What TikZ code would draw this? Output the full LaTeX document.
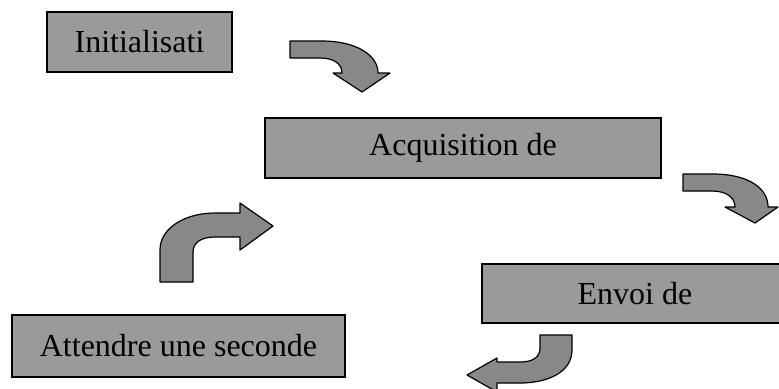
\documentclass[tikz,border=0pt]{standalone}
\usepackage{fontspec}
\setmainfont{Liberation Serif}
\definecolor{boxgray}{RGB}{154,154,154}
\definecolor{arrowgray}{RGB}{136,136,136}
\tikzset{
  basic/.style     = {draw, line width=0.8pt, fill=boxgray, rectangle, inner sep=0pt,
                      font=\fontsize{16}{19}\selectfont},
  stage/.style     = {basic, minimum height=30pt},
  bentarrow/.style = {draw, line width=0.6pt, fill=arrowgray, line join=round}
}

\begin{document}
\begin{tikzpicture}[x=0.5pt, y=-0.5pt]

\clip (0,0) rectangle (779,388);

% the four steps of the loop
\node[stage, minimum width=92.5pt] (init) at (139.5,42) {Initialisati};
\node[stage, minimum width=198pt]  (acq)  at (463,148)  {Acquisition de};
\node[stage, minimum width=153pt, minimum height=29.5pt] (envoi) at (635,293.5) {Envoi de};
\node[stage, minimum width=166.5pt, minimum height=31pt] (wait) at (178.5,346) {Attendre une seconde};

% bent block arrows between the steps
\begin{scope}[every path/.style={bentarrow}]
% init -> acq
\draw (290,41) -- (322,41) .. controls (356,41) and (378,55) .. (378,73)
  -- (390,73) -- (362,92) -- (333,73) -- (342,73)
  .. controls (342,64) and (334,58) .. (320,58) -- (290,58) -- cycle;
% acq -> envoi
\draw (683,174) -- (713,174) .. controls (748,174) and (768,188) .. (768,207)
  -- (778,207) -- (755,223) -- (725,207) -- (735,207)
  .. controls (735,198) and (727,191) .. (712,191) -- (683,191) -- cycle;
% envoi -> wait
\draw (540,335) -- (572,335) -- (572,350) .. controls (572,372) and (548,383) .. (520,383)
  -- (497,383) -- (497,392) -- (467,375) -- (497,358) -- (497,362) -- (520,362)
  .. controls (533,362) and (540,357) .. (540,348) -- cycle;
% wait -> acq
\draw (160,282) -- (160,250) .. controls (160,228) and (185,213) .. (215,213)
  -- (240,213) -- (240,203) -- (273,226) -- (240,250) -- (240,237) -- (215,237)
  .. controls (202,237) and (193,242) .. (193,252) -- (193,282) -- cycle;
\end{scope}

\end{tikzpicture}
\end{document}
